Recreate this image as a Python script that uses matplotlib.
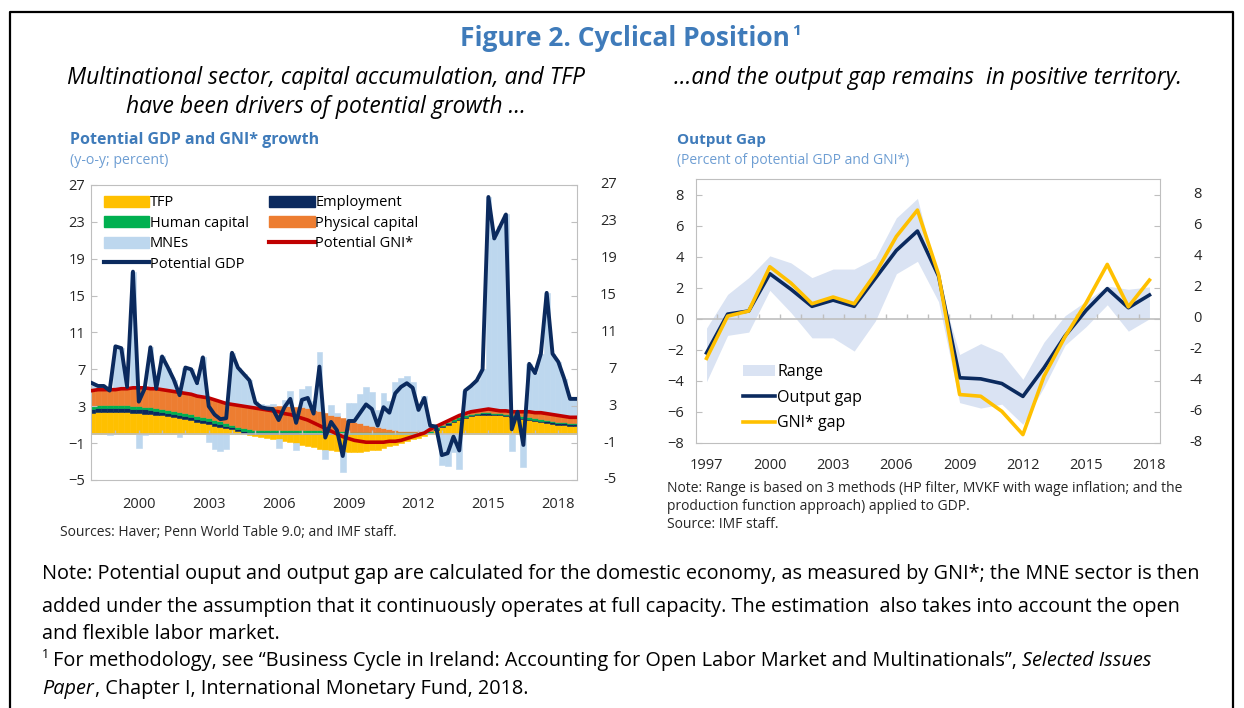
import numpy as np
import matplotlib
matplotlib.use("Agg")
import matplotlib.pyplot as plt
from matplotlib.patches import Patch
from matplotlib.lines import Line2D
from matplotlib.transforms import blended_transform_factory

plt.rcParams['font.family'] = ['Open Sans', 'DejaVu Sans']

# ---- left chart: quarterly, 1998Q1 .. 2018Q4 (y-o-y, percent)
start_year = 1998
tfp = [2.3, 2.4, 2.4, 2.4, 2.4, 2.4, 2.4, 2.3, 2.3, 2.2, 2.2, 2.1,
       2.0, 1.9, 1.8, 1.7, 1.6, 1.5, 1.3, 1.2, 1.1, 0.9, 0.8, 0.6,
       0.5, 0.3, 0.1, -0.1, -0.2, -0.3, -0.4, -0.5, -0.6, -0.8, -0.9, -1.0,
       -1.2, -1.3, -1.4, -1.6, -1.7, -1.8, -1.9, -2.0, -2.0, -2.0, -2.0, -1.9,
       -1.8, -1.7, -1.5, -1.3, -1.2, -1.0, -0.8, -0.6, -0.4, -0.2, 0.1, 0.4,
       0.7, 1.0, 1.3, 1.5, 1.7, 1.9, 2.0, 2.1, 2.1, 2.0, 2.0, 1.9,
       1.8, 1.7, 1.6, 1.5, 1.4, 1.3, 1.2, 1.1, 1.0, 1.0, 0.9, 0.9]
employment = [0.45, 0.45, 0.45, 0.45, 0.45, 0.45, 0.45, 0.45, 0.45, 0.45, 0.4, 0.4,
              0.4, 0.4, 0.4, 0.4, 0.35, 0.35, 0.35, 0.35, 0.3, 0.3, 0.3, 0.3,
              0.25, 0.25, 0.25, 0.25, 0.2, 0.2, 0.2, 0.2, 0.2, 0.2, 0.2, 0.2,
              0.15, 0.15, 0.15, 0.15, 0.1, 0.1, 0.05, 0.05, 0.0, 0.0, 0.0, 0.0,
              0.0, 0.0, 0.0, 0.0, 0.0, 0.0, 0.0, 0.0, 0.0, 0.0, 0.05, 0.1,
              0.15, 0.15, 0.15, 0.15, 0.15, 0.15, 0.15, 0.15, 0.15, 0.15, 0.15, 0.15,
              0.15, 0.15, 0.15, 0.15, 0.15, 0.15, 0.15, 0.15, 0.15, 0.15, 0.15, 0.15]
human_capital = [0.3] * 24 + [0.25] * 20 + [0.2] * 16 + [0.15] * 24
physical_capital = [1.65, 1.65, 1.65, 1.65, 1.65, 1.75, 1.75, 1.95, 1.95, 2.05, 2.0, 2.1,
                    2.1, 2.1, 2.1, 2.1, 2.15, 2.15, 2.15, 2.15, 2.2, 2.2, 2.1, 2.1,
                    2.2, 2.3, 2.4, 2.5, 2.55, 2.55, 2.55, 2.55, 2.55, 2.55, 2.55, 2.45,
                    2.5, 2.4, 2.2, 2.1, 1.95, 1.75, 1.6, 1.4, 1.3, 1.1, 1.0, 0.8,
                    0.7, 0.6, 0.4, 0.3, 0.2, 0.1, 0.1, 0.1, 0.1, 0.1, 0.15, 0.1,
                    0.1, 0.1, 0.1, 0.2, 0.2, 0.2, 0.2, 0.2, 0.3, 0.3, 0.2, 0.3,
                    0.3, 0.4, 0.5, 0.6, 0.6, 0.7, 0.7, 0.7, 0.7, 0.6, 0.6, 0.6]
potential_gdp = [5.5, 5.2, 5.2, 4.7, 9.5, 9.3, 5.1, 17.6, 3.5, 4.9, 9.4, 4.9,
                 8.4, 7.2, 5.9, 4.2, 7.2, 7.0, 5.5, 8.3, 3.0, 2.1, 1.6, 1.7,
                 8.8, 7.2, 6.5, 5.8, 3.4, 2.9, 2.75, 2.7, 1.5, 2.9, 3.8, 1.2,
                 3.7, 3.9, 2.2, 7.3, -0.4, 1.3, 0.4, -2.4, 1.4, 1.4, 2.3, 3.2,
                 2.7, 0.9, 2.9, 2.3, 4.4, 5.1, 5.5, 5.0, 2.6, 3.9, 0.9, 0.8,
                 -2.3, -2.1, -0.3, -1.8, 4.7, 5.2, 5.8, 7.0, 25.7, 21.2, 22.5, 23.8,
                 0.5, 2.4, -1.2, 7.6, 6.6, 8.7, 15.3, 8.7, 7.8, 6.0, 3.8, 3.8]
left_xticks = [2000, 2003, 2006, 2009, 2012, 2015, 2018]
left_yticks = [-5, -1, 3, 7, 11, 15, 19, 23, 27]

# ---- right chart: annual output gap (percent of potential)
years = list(range(1997, 2019))
output_gap = [-2.2, 0.3, 0.5, 2.9, 1.9, 0.8, 1.2, 0.8, 2.6, 4.4, 5.65,
              2.75, -3.8, -3.87, -4.17, -5.0, -3.16, -1.1, 0.55, 1.94, 0.71, 1.53]
gni_gap = [-2.55, 0.17, 0.5, 3.35, 2.3, 0.97, 1.4, 0.97, 2.9, 5.3, 7.0,
           2.86, -4.88, -4.99, -5.96, -7.46, -3.7, -1.15, 1.03, 3.5, 0.77, 2.49]
range_low = [-4.05, -1.07, -0.86, 1.83, 0.4, -1.23, -1.23, -2.08, -0.15, 2.9, 3.7,
             1.1, -5.4, -5.75, -5.5, -6.8, -4.4, -1.7, -0.5, 0.9, -0.8, 0.0]
range_high = [-0.6, 1.57, 2.65, 4.05, 3.6, 2.65, 3.2, 3.2, 3.9, 6.5, 7.75,
              2.4, -2.3, -1.6, -2.2, -3.9, -1.5, 0.2, 1.14, 2.1, 1.9, 2.05]
right_xticks = [1997, 2000, 2003, 2006, 2009, 2012, 2015, 2018]
right_yticks = [-8, -6, -4, -2, 0, 2, 4, 6, 8]

gold = '#FFC000'
navy = '#0B2A5E'
green = '#00B050'
orange = '#ED7D31'
lightblue = '#BDD7EE'
red = '#C00000'
band = '#DAE3F3'
grey = '#BFBFBF'
title_blue = '#3F7BBA'
sub_blue = '#6E9ED3'
txt = '#262626'

W, H = 1244, 708
fig = plt.figure(figsize=(W / 100, H / 100), dpi=100)
renderer = fig.canvas.get_renderer()


def T(x, y, s, **kw):
    kw.setdefault('va', 'center')
    return fig.text(x / W, 1 - y / H, s, **kw)


def box(x0, y0, x1, y1):
    return [x0 / W, 1 - y1 / H, (x1 - x0) / W, (y1 - y0) / H]


def right_labels(a, ticks, offset_px, width_px, size):
    # right-hand tick labels, right-aligned like the original
    tr = blended_transform_factory(a.transAxes, a.transData)
    for v in ticks:
        a.text(1 + offset_px / width_px, v, str(v), transform=tr, ha='right', va='center',
               fontsize=size, color=txt, clip_on=False)


# outer frame
fig.add_artist(Line2D([10 / W, 10 / W, 1233 / W, 1233 / W], [0, 1 - 12 / H, 1 - 12 / H, 0],
                      color='black', lw=1.6))

# headings
t = T(460, 38, 'Figure 2. Cyclical Position', ha='left', fontsize=19, fontweight='bold', color=title_blue)
tx = 460 + t.get_window_extent(renderer).width + 2
T(tx, 31, '1', ha='left', fontsize=11, fontweight='bold', color=title_blue)
T(326, 78, 'Multinational sector, capital accumulation, and TFP', ha='center', fontsize=16.5, style='italic')
T(326, 107, 'have been drivers of potential growth …', ha='center', fontsize=16.5, style='italic')
T(928, 78, '…and the output gap remains  in positive territory.', ha='center', fontsize=16.5, style='italic')

# ---------------- left chart
ax = fig.add_axes(box(91, 185, 577, 480))
n = len(potential_gdp)
x = start_year + 0.25 * np.arange(n)
comps = [np.array(tfp), np.array(employment), np.array(human_capital), np.array(physical_capital)]
gni = sum(comps)
mnes = np.array(potential_gdp) - gni
pos_base = np.zeros(n)
neg_base = np.zeros(n)
for vals, col in zip(comps + [mnes], [gold, navy, green, orange, lightblue]):
    bottom = np.where(vals >= 0, pos_base, neg_base)
    ax.bar(x, vals, width=0.25, bottom=bottom, color=col, edgecolor=col, linewidth=0.4, zorder=1)
    pos_base = pos_base + np.clip(vals, 0, None)
    neg_base = neg_base + np.clip(vals, None, 0)

ax.axhline(0, color=grey, lw=1.2, zorder=2)
ax.vlines(np.arange(1999, 2019), 0, 0.45, color=grey, lw=1, zorder=2)
ax.plot(x, gni, color=red, lw=2.6, zorder=3, solid_joinstyle='round')
ax.plot(x, potential_gdp, color=navy, lw=2.8, zorder=4, solid_joinstyle='round')

ax.set_xlim(1997.95, 2018.8)
ax.set_ylim(-5, 27)
ax.set_xticks(left_xticks)
ax.set_xticklabels([str(v) for v in left_xticks])
ax.set_yticks(left_yticks)
ax.tick_params(axis='x', length=0, pad=12, labelsize=10.5, labelcolor=txt)
ax.tick_params(axis='y', direction='in', length=4, color=grey, labelsize=10.5, labelcolor=txt,
               right=True, labelright=False, pad=4)
for spine in ax.spines.values():
    spine.set_color(grey)
right_labels(ax, left_yticks, 40, 486, 10.5)

handles = [Patch(color=gold), Patch(color=green), Patch(color=lightblue),
           Line2D([], [], color=navy, lw=3),
           Patch(color=navy), Patch(color=orange), Line2D([], [], color=red, lw=3)]
labels = ['TFP', 'Human capital', 'MNEs', 'Potential GDP',
          'Employment', 'Physical capital', 'Potential GNI*']
ax.legend(handles, labels, ncol=2, loc='upper left', bbox_to_anchor=(0.0, 1.01), frameon=False,
          fontsize=10.5, handlelength=3.1, handleheight=0.8, handletextpad=0.05,
          labelspacing=0.38, columnspacing=1.4, borderaxespad=0.5)

T(70, 140, 'Potential GDP and GNI* growth', fontsize=11.5, fontweight='bold', color=title_blue)
T(70, 160, '(y-o-y; percent)', fontsize=10.2, color=sub_blue)
T(60, 533, 'Sources: Haver; Penn World Table 9.0; and IMF staff.', fontsize=10, color=txt)

# ---------------- right chart
ax2 = fig.add_axes(box(696, 179, 1160, 443))
ax2.fill_between(years, range_low, range_high, color=band, lw=0, zorder=1, label='Range')
ax2.axhline(0, color=grey, lw=1.2, zorder=1.5)
ax2.vlines(np.arange(1997.5, 2018), 0, 0.28, color=grey, lw=1, zorder=1.5)
ax2.plot(years, output_gap, color=navy, lw=2.6, zorder=3, label='Output gap')
ax2.plot(years, gni_gap, color=gold, lw=2.6, zorder=4, label='GNI* gap')
ax2.set_xlim(1996.5, 2018.5)
ax2.set_ylim(-8, 9)
ax2.set_xticks(right_xticks)
ax2.set_yticks(right_yticks)
ax2.tick_params(axis='x', length=0, pad=11, labelsize=10.5, labelcolor=txt)
ax2.tick_params(axis='y', direction='in', length=4, color=grey, labelsize=10.5, labelcolor=txt,
                right=True, labelright=False, pad=9)
for spine in ax2.spines.values():
    spine.set_color(grey)
right_labels(ax2, right_yticks, 42, 464, 10.5)
ax2.legend(loc='lower left', bbox_to_anchor=(0.07, -0.01), frameon=False, fontsize=11.5,
           handlelength=2.0, handletextpad=0.15, labelspacing=0.6)

T(677, 140, 'Output Gap', fontsize=11, fontweight='bold', color=title_blue)
T(677, 160, '(Percent of potential GDP and GNI*)', fontsize=10, color=sub_blue)
T(667, 488, 'Note: Range is based on 3 methods (HP filter, MVKF with wage inflation; and the', fontsize=10, color=txt)
T(667, 506, 'production function approach) applied to GDP.', fontsize=10, color=txt)
T(667, 525, 'Source: IMF staff.', fontsize=10, color=txt)


# ---------------- bottom note
def chain(x0, y0, parts, size):
    xx = x0
    for s, style, gap in parts:
        t = T(xx, y0, s, fontsize=size, style=style, color='black')
        xx += t.get_window_extent(renderer).width + gap


ns = 14.3
T(42, 574, 'Note: Potential ouput and output gap are calculated for the domestic economy, as measured by GNI*; the MNE sector is then', fontsize=ns)
T(42, 607, 'added under the assumption that it continuously operates at full capacity. The estimation  also takes into account the open', fontsize=ns)
T(42, 634, 'and flexible labor market.', fontsize=ns)
T(42, 655, '1', fontsize=9)
chain(53, 661, [('For methodology, see “Business Cycle in Ireland: Accounting for Open Labor Market and Multinationals”,', 'normal', 5),
                ('Selected Issues', 'italic', 0)], ns)
chain(42, 689, [('Paper', 'italic', 1), (', Chapter I, International Monetary Fund, 2018.', 'normal', 0)], ns)

fig.savefig('out.png', dpi=100)
